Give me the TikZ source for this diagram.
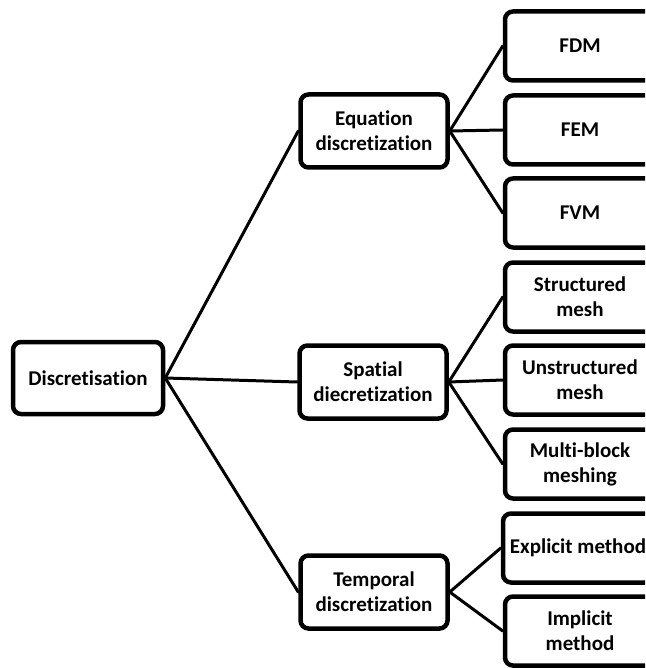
\documentclass[tikz,border=0pt]{standalone}
\usepackage{fontspec}
\setmainfont{Carlito}[Ligatures=NoCommon]
\begin{document}
\begin{tikzpicture}[x=1pt,y=-1pt,
  box/.style={draw=black,line width=4.5pt,rounded corners=8pt,fill=white,
    align=center,font=\fontsize{21}{25}\selectfont\bfseries,inner sep=0pt},
  rootbox/.style={box,minimum width=150pt,minimum height=72pt},
  midbox/.style={box,minimum width=147pt,minimum height=73pt},
  leafbox/.style={box,minimum width=150pt,minimum height=69pt},
  link/.style={line width=3pt,line cap=round}]
\useasboundingbox (0,0) rectangle (645,668);
\clip (0,0) rectangle (645,668);

% root
\node[rootbox] (disc) at (88,378) {Discretisation};

% second level
\node[midbox] (eq) at (374,131) {Equation\\discretization};
\node[midbox] (sp) at (373,382) {Spatial\\diecretization};
\node[midbox] (tm) at (374,592) {Temporal\\discretization};

% leaves
\node[leafbox] (fdm) at (580,46)  {FDM};
\node[leafbox] (fem) at (580,130) {FEM};
\node[leafbox] (fvm) at (580,213) {FVM};
\node[leafbox] (str) at (580,297) {Structured\\mesh};
\node[leafbox] (uns) at (580,380) {Unstructured\\mesh};
\node[leafbox] (mbk) at (580,464) {Multi-block\\meshing};
\node[leafbox] (exm) at (578,548) {Explicit method};
\node[leafbox] (imm) at (580,631) {Implicit\\method};

% connectors
\draw[link] (disc.east) -- (eq.west);
\draw[link] (disc.east) -- (sp.west);
\draw[link] (disc.east) -- (tm.west);
\draw[link] (eq.east) -- (fdm.west);
\draw[link] (eq.east) -- (fem.west);
\draw[link] (eq.east) -- (fvm.west);
\draw[link] (sp.east) -- (str.west);
\draw[link] (sp.east) -- (uns.west);
\draw[link] (sp.east) -- (mbk.west);
\draw[link] (tm.east) -- (exm.west);
\draw[link] (tm.east) -- (imm.west);
\end{tikzpicture}
\end{document}
